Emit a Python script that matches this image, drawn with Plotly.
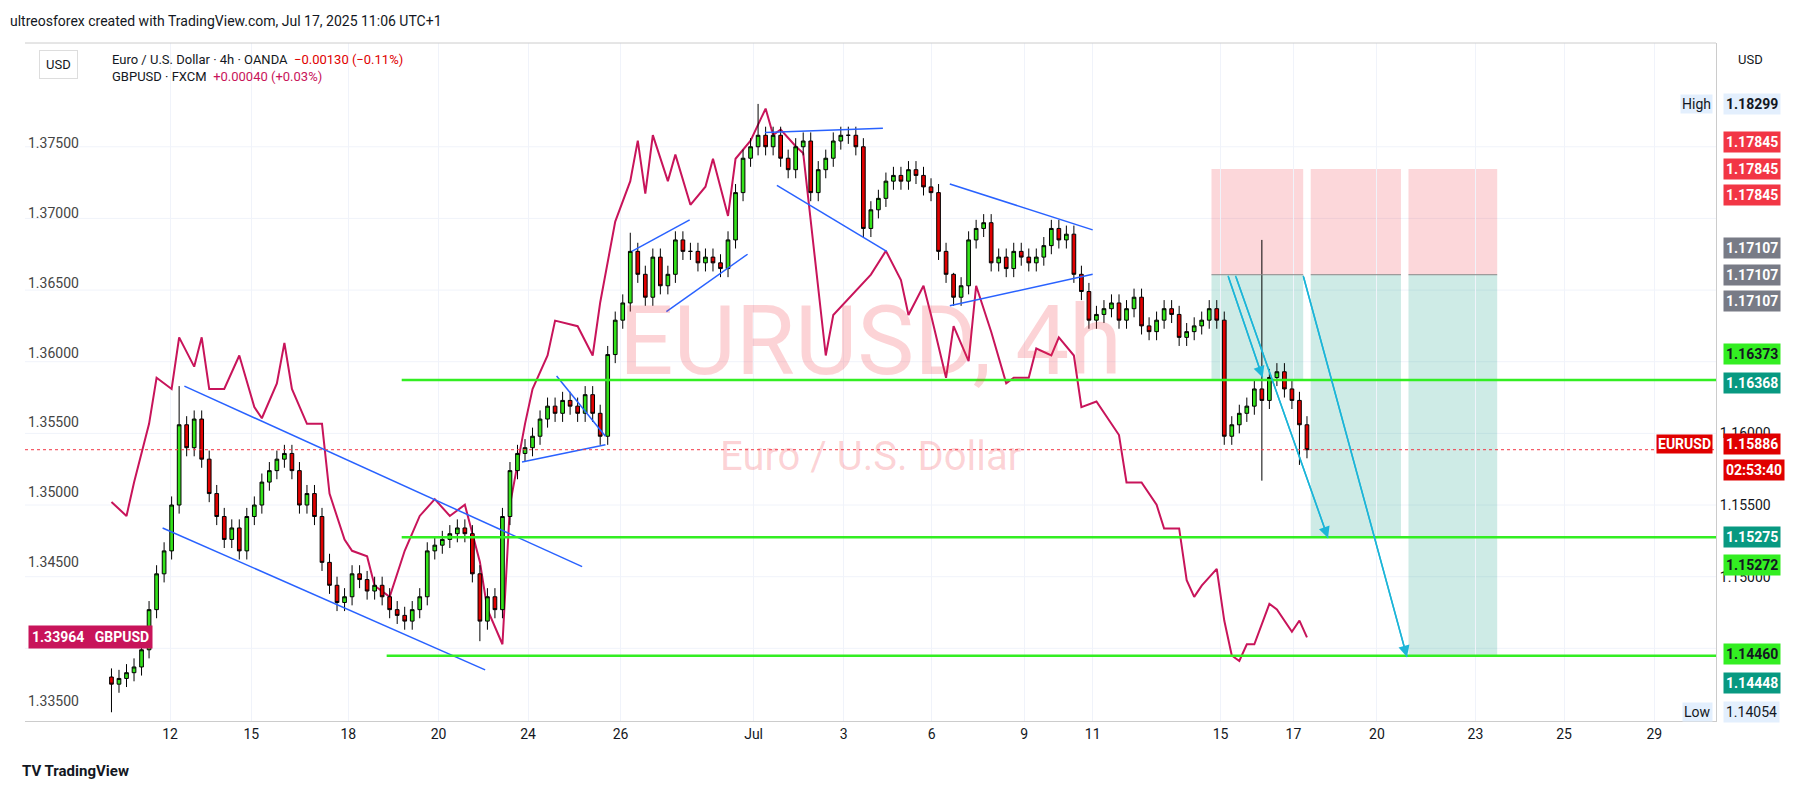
import plotly.graph_objects as go

# EURUSD 4h closes, bar index 0..159
eur_close = [1.1425, 1.1429, 1.1433, 1.1437, 1.1449, 1.1477, 1.1502, 1.1518, 1.1550, 1.1606,
             1.1590, 1.1610, 1.1582, 1.1558, 1.1542, 1.1526, 1.1534, 1.1518, 1.1542, 1.1550,
             1.1566, 1.1574, 1.1582, 1.1586, 1.1574, 1.1550, 1.1558, 1.1542, 1.1510, 1.1494,
             1.1482, 1.1486, 1.1502, 1.1498, 1.1490, 1.1494, 1.1486, 1.1477, 1.1473, 1.1469,
             1.1477, 1.1486, 1.1518, 1.1522, 1.1526, 1.1530, 1.1534, 1.1530, 1.1502, 1.1469,
             1.1486, 1.1477, 1.1542, 1.1574, 1.1586, 1.1590, 1.1598, 1.1610, 1.1619, 1.1614,
             1.1623, 1.1619, 1.1614, 1.1627, 1.1614, 1.1598, 1.1655, 1.1679, 1.1691, 1.1727,
             1.1711, 1.1695, 1.1723, 1.1703, 1.1711, 1.1735, 1.1727, 1.1727, 1.1719, 1.1723,
             1.1719, 1.1715, 1.1735, 1.1768, 1.1792, 1.1800, 1.1808, 1.1800, 1.1808, 1.1792,
             1.1784, 1.1800, 1.1804, 1.1768, 1.1784, 1.1792, 1.1804, 1.1808, 1.1808, 1.1800,
             1.1743, 1.1756, 1.1764, 1.1776, 1.1780, 1.1776, 1.1784, 1.1780, 1.1772, 1.1768,
             1.1727, 1.1711, 1.1695, 1.1703, 1.1735, 1.1743, 1.1747, 1.1719, 1.1723, 1.1715,
             1.1727, 1.1723, 1.1719, 1.1723, 1.1731, 1.1743, 1.1735, 1.1739, 1.1711, 1.1699,
             1.1679, 1.1683, 1.1687, 1.1691, 1.1679, 1.1687, 1.1695, 1.1675, 1.1671, 1.1679,
             1.1687, 1.1683, 1.1667, 1.1671, 1.1675, 1.1679, 1.1687, 1.1679, 1.1598, 1.1606,
             1.1614, 1.1619, 1.1631, 1.1623, 1.1639, 1.1643, 1.1631, 1.1623, 1.1606, 1.15886]
eur_open0 = 1.1430
# notable wick extremes
eur_high_spikes = {9: 1.1633, 86: 1.18299, 69: 1.1740, 153: 1.1735, 112: 1.1712}
eur_low_spikes = {0: 1.14054, 49: 1.1455, 153: 1.1567, 158: 1.1578}

# GBPUSD line (bar index, price)
gbp_bar = [0, 2, 3, 5, 6, 8, 9, 11, 12, 13, 15, 17, 19, 20, 22, 23, 24, 26, 28, 29,
           31, 32, 34, 35, 37, 39, 41, 43, 45, 47, 49, 50, 52, 53, 55, 56, 58, 59, 62, 64,
           65, 67, 69, 70, 71, 72, 74, 75, 77, 79, 80, 82, 83, 85, 87, 88, 89, 91, 92, 94,
           95, 96, 99, 101, 103, 105, 106, 108, 109, 111, 112, 114, 115, 117, 119, 120, 122, 123, 125, 126,
           128, 129, 131, 132, 134, 135, 137, 139, 140, 142, 143, 144, 145, 147, 148, 149, 150, 151, 152, 154,
           155, 157, 158, 159]
gbp_price = [1.3493, 1.3483, 1.3507, 1.3549, 1.3582, 1.3574, 1.3611, 1.3590, 1.3611, 1.3574,
             1.3574, 1.3598, 1.3561, 1.3553, 1.3578, 1.3607, 1.3574, 1.3549, 1.3549, 1.3499,
             1.3466, 1.3458, 1.3454, 1.3433, 1.3425, 1.3458, 1.3483, 1.3495, 1.3483, 1.3491,
             1.3450, 1.3416, 1.3391, 1.3491, 1.3549, 1.3574, 1.3598, 1.3623, 1.3619, 1.3598,
             1.3636, 1.3694, 1.3723, 1.3752, 1.3714, 1.3756, 1.3723, 1.3742, 1.3706, 1.3719,
             1.3739, 1.3698, 1.3739, 1.3752, 1.3775, 1.3756, 1.3760, 1.3748, 1.3743, 1.3644,
             1.3598, 1.3627, 1.3644, 1.3656, 1.3673, 1.3652, 1.3627, 1.3648, 1.3627, 1.3582,
             1.3619, 1.3594, 1.3648, 1.3615, 1.3578, 1.3582, 1.3582, 1.3603, 1.3598, 1.3611,
             1.3598, 1.3561, 1.3565, 1.3557, 1.3541, 1.3507, 1.3507, 1.3491, 1.3474, 1.3474,
             1.3437, 1.3425, 1.3433, 1.3445, 1.3408, 1.3383, 1.3379, 1.3391, 1.3391, 1.3420,
             1.3416, 1.3400, 1.3408, 1.3396]

tick_bars = [7.8, 18.6, 31.5, 43.5, 55.4, 67.7, 85.4, 97.4, 109.1, 121.4, 130.5, 147.5, 157.2, 168.3, 181.4, 193.2, 205.2]
tick_text = ["12", "15", "18", "20", "24", "26", "Jul", "3", "6", "9", "11", "15", "17", "20", "23", "25", "29"]
gbp_ticks = [1.335, 1.345, 1.350, 1.355, 1.360, 1.365, 1.370, 1.375]
eur_ticks = [1.150, 1.155, 1.160]
eur_grid = [1.145, 1.150, 1.155, 1.160, 1.165, 1.170, 1.175, 1.180]

# drawing levels
green_levels = [1.16373, 1.15275, 1.14448]
blue_lines = [((9.7, 1.1633), (62.6, 1.1507)), ((6.8, 1.1534), (49.7, 1.1435)),
              ((54.6, 1.1580), (65.7, 1.1592)), ((59.2, 1.1640), (65.7, 1.1598)),
              ((69.2, 1.1727), (76.9, 1.1749)), ((73.8, 1.1685), (84.6, 1.1725)),
              ((86.9, 1.1810), (102.6, 1.1813)), ((88.5, 1.1773), (103.1, 1.1727)),
              ((111.5, 1.1774), (130.5, 1.1742)), ((111.5, 1.1689), (130.5, 1.1711))]
cyan_lines = [((148.5, 1.1710), (153.1, 1.1639)), ((149.5, 1.1710), (161.8, 1.1527)),
              ((158.5, 1.1710), (172.3, 1.1444))]
short_entry, short_stop = 1.17107, 1.17845
targets = [(146.3, 158.5, 1.16373), (159.5, 171.5, 1.15275), (172.5, 184.3, 1.14448)]

n = len(eur_close)
eur_open = [eur_open0] + eur_close[:-1]
eur_high = [eur_high_spikes.get(i, max(o, c) + 0.0006) for i, (o, c) in enumerate(zip(eur_open, eur_close))]
eur_low = [eur_low_spikes.get(i, min(o, c) - 0.0006) for i, (o, c) in enumerate(zip(eur_open, eur_close))]

fig = go.Figure()
fig.add_trace(go.Candlestick(
    x=list(range(n)), open=eur_open, high=eur_high, low=eur_low, close=eur_close, yaxis="y2",
    increasing=dict(fillcolor="#33e21a", line=dict(color="#000000", width=1)),
    decreasing=dict(fillcolor="#e00000", line=dict(color="#000000", width=1)),
    whiskerwidth=0, showlegend=False))
fig.add_trace(go.Scatter(x=gbp_bar, y=gbp_price, mode="lines", yaxis="y",
                         line=dict(color="#c8145a", width=2), showlegend=False))

shapes = []
for g in eur_grid:
    shapes.append(dict(type="line", x0=0, x1=1, xref="paper", y0=g, y1=g, yref="y2",
                       line=dict(color="#f0f3fa", width=1), layer="below"))
for (x0, y0), (x1, y1) in blue_lines:
    shapes.append(dict(type="line", x0=x0, y0=y0, x1=x1, y1=y1, xref="x", yref="y2",
                       line=dict(color="#2962ff", width=1.5)))
for x0, x1, tgt in targets:
    shapes.append(dict(type="rect", x0=x0, x1=x1, y0=short_entry, y1=short_stop, xref="x", yref="y2",
                       fillcolor="rgba(242,54,69,0.2)", line_width=0, layer="below"))
    shapes.append(dict(type="rect", x0=x0, x1=x1, y0=tgt, y1=short_entry, xref="x", yref="y2",
                       fillcolor="rgba(8,153,129,0.2)", line_width=0, layer="below"))
    shapes.append(dict(type="line", x0=x0, x1=x1, y0=short_entry, y1=short_entry, xref="x", yref="y2",
                       line=dict(color="#888", width=1)))
for i, lvl in enumerate(green_levels):
    shapes.append(dict(type="line", x0=36.6 if i == 2 else 38.6, x1=213.4, xref="x", y0=lvl, y1=lvl, yref="y2",
                       line=dict(color="#33ee22", width=2.5)))
shapes.append(dict(type="line", x0=0, x1=1, xref="paper", y0=eur_close[-1], y1=eur_close[-1], yref="y2",
                   line=dict(color="#f23645", width=1, dash="dot")))
for (x0, y0), (x1, y1) in cyan_lines:
    shapes.append(dict(type="line", x0=x0, y0=y0, x1=x1, y1=y1, xref="x", yref="y2",
                       line=dict(color="#1cb5d8", width=1.5)))
shapes.append(dict(type="line", x0=0, x1=1, xref="paper", y0=1, y1=1, yref="paper", line=dict(color="#ccc", width=1)))

ann = []
for (x0, y0), (x1, y1) in cyan_lines:
    ann.append(dict(x=x1, y=y1, ax=x0, ay=y0, xref="x", yref="y2", axref="x", ayref="y2", text="",
                    showarrow=True, arrowhead=2, arrowsize=1.5, arrowwidth=1.5, arrowcolor="#1cb5d8"))

def label(y, text, bg, fc="white", yref="y2", x=1.004, xanchor="left"):
    ann.append(dict(x=x, y=y, xref="paper", yref=yref, text=text, showarrow=False, xanchor=xanchor,
                    bgcolor=bg, font=dict(color=fc, size=14, family="Roboto"), borderpad=2))

label(1.18299, "<b>1.18299</b>", "#e3effd", "#131722")
ann.append(dict(x=0.998, y=1.18299, xref="paper", yref="y2", text="High", showarrow=False, xanchor="right",
                bgcolor="#e3effd", font=dict(size=14, color="#131722", family="Roboto")))
for k in range(3):
    label(1.17845 - 0.00185 * (k - 1), "<b>1.17845</b>", "#f23645")
for k in range(3):
    label(1.17107 - 0.00185 * (k - 1), "<b>1.17107</b>", "#787b86")
label(1.16373 + 0.0018, "<b>1.16373</b>", "#33ee22", "#131722")
label(1.16373 - 0.0002, "<b>1.16368</b>", "#089981")
label(eur_close[-1] + 0.0004, "<b>1.15886</b>", "#e00000")
label(eur_close[-1] - 0.0014, "<b>02:53:40</b>", "#e00000")
ann.append(dict(x=0.998, y=eur_close[-1] + 0.0004, xref="paper", yref="y2", text="<b>EURUSD</b>", showarrow=False,
                xanchor="right", bgcolor="#e00000", font=dict(size=14, color="white", family="Roboto")))
label(1.15275, "<b>1.15275</b>", "#089981")
label(1.15275 - 0.0019, "<b>1.15272</b>", "#33ee22", "#131722")
label(1.14448 + 0.0001, "<b>1.14460</b>", "#33ee22", "#131722")
label(1.14448 - 0.0019, "<b>1.14448</b>", "#089981")
label(1.14054, "1.14054", "#e3effd", "#131722")
ann.append(dict(x=0.998, y=1.14054, xref="paper", yref="y2", text="Low", showarrow=False, xanchor="right",
                bgcolor="#e3effd", font=dict(size=14, color="#131722", family="Roboto")))
ann.append(dict(x=0.002, y=gbp_price[-1], xref="paper", yref="y", text="<b>1.33964   GBPUSD</b>", showarrow=False,
                xanchor="left", bgcolor="#c8145a", font=dict(size=14, color="white", family="Roboto"), borderpad=3))

# watermark
ann.append(dict(x=0.5, y=0.56, xref="paper", yref="paper", text="EURUSD, 4h", showarrow=False,
                font=dict(size=96, color="rgba(242,54,69,0.22)", family="Roboto")))
ann.append(dict(x=0.5, y=0.39, xref="paper", yref="paper", text="Euro / U.S. Dollar", showarrow=False,
                font=dict(size=40, color="rgba(242,54,69,0.22)", family="Roboto")))
# header texts
ann.append(dict(x=0, y=1.047, xref="paper", yref="paper", xanchor="left", xshift=-17, showarrow=False,
                text="ultreosforex created with TradingView.com, Jul 17, 2025 11:06 UTC+1",
                font=dict(size=14, color="#131722", family="Roboto")))
ann.append(dict(x=0.05, y=0.99, xref="paper", yref="paper", xanchor="left", yanchor="top", showarrow=False, align="left",
                text="Euro / U.S. Dollar · 4h · OANDA  <span style='color:#e00000'>−0.00130 (−0.11%)</span><br>"
                     "GBPUSD · FXCM  <span style='color:#c8145a'>+0.00040 (+0.03%)</span>",
                font=dict(size=13, color="#131722", family="Roboto")))
ann.append(dict(x=0.008, y=0.99, xref="paper", yref="paper", xanchor="left", yanchor="top", showarrow=False,
                text="USD", bordercolor="#ddd", borderpad=6, font=dict(size=13, color="#131722", family="Roboto")))
ann.append(dict(x=1.012, y=0.99, xref="paper", yref="paper", xanchor="left", yanchor="top", showarrow=False,
                text="USD", font=dict(size=13, color="#131722", family="Roboto")))
ann.append(dict(x=0, y=-0.09, xref="paper", yref="paper", xanchor="left", xshift=-5, showarrow=False,
                text="<b>TV TradingView</b>", font=dict(size=15, color="#131722", family="Roboto")))

fig.update_layout(
    width=1813, height=793, margin=dict(l=17, r=105, t=35, b=80),
    plot_bgcolor="white", paper_bgcolor="white",
    font=dict(family="Roboto", color="#131722", size=14),
    xaxis=dict(range=[-11.5, 213.4], tickvals=tick_bars, ticktext=tick_text, showgrid=True,
               gridcolor="#f0f3fa", rangeslider=dict(visible=False), zeroline=False,
               showline=True, linecolor="#ccc", mirror=False, ticks=""),
    yaxis=dict(range=[1.3336, 1.3822], tickvals=gbp_ticks, tickformat=".5f", ticklabelposition="inside",
               side="left", showgrid=False, zeroline=False),
    yaxis2=dict(range=[1.13993, 1.18724], tickvals=eur_ticks, tickformat=".5f", overlaying="y", side="right",
                showgrid=False, zeroline=False, showline=True, linecolor="#ccc",
                tickfont=dict(color="#131722")),
    shapes=shapes, annotations=ann,
)
fig.write_html("out.html")
